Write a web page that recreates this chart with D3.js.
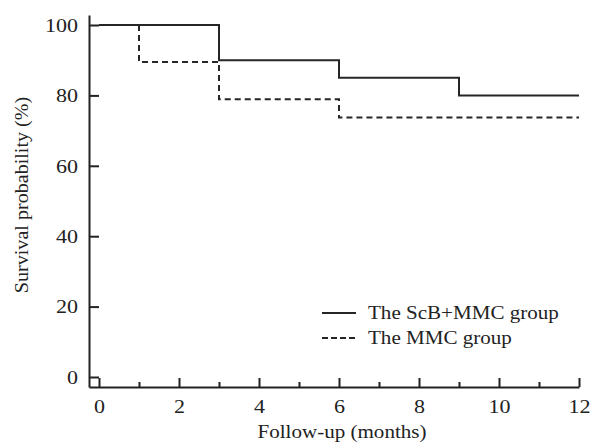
<!DOCTYPE html>
<html>
<head>
<meta charset="utf-8">
<script src="https://cdn.jsdelivr.net/npm/d3@7"></script>
<style>
  body { margin: 0; background: #fff; }
</style>
</head>
<body>
<div id="chart"></div>
<script>
// step points: [month, survival %]
var scbMonths = [0, 3, 6, 9, 12];
var scbSurvival = [100, 90, 85, 80, 80];
var mmcMonths = [0, 1, 3, 6, 12];
var mmcSurvival = [100, 89.5, 78.9, 73.7, 73.7];

var xTicks = [0, 2, 4, 6, 8, 10, 12];
var xMinorTicks = [1, 3, 5, 7, 9, 11];
var yTicks = [0, 20, 40, 60, 80, 100];

var legendLabels = ["The ScB+MMC group", "The MMC group"];

const width = 591;
const height = 447;
const serif = "Liberation Serif";
const fontSize = 19.5;

// widen the serif glyphs a little (reference font is wider than Times)
function widen(sel, k) {
    sel.each(function() {
        var L = this.getComputedTextLength();
        this.setAttribute('textLength', L * k);
        this.setAttribute('lengthAdjust', 'spacingAndGlyphs');
    });
}

const xScale = d3.scaleLinear().domain([-0.25, 12]).range([89, 579]);
const yScale = d3.scaleLinear().domain([-2.84, 102.84]).range([387, 15]);

let svg = d3.select('#chart')
    .append('svg')
        .attr('width', width)
        .attr('height', height)
        .attr('font-family', serif);

// x-axis
let xAxis = svg.append('g')
    .attr('transform', `translate(0, ${yScale.range()[0]})`)
    .call(d3.axisBottom(xScale).tickValues(xTicks).tickSizeInner(-9).tickSizeOuter(0).tickPadding(12));

svg.append('g')
    .attr('transform', `translate(0, ${yScale.range()[0]})`)
    .call(d3.axisBottom(xScale).tickValues(xMinorTicks).tickSizeInner(-5).tickSizeOuter(0).tickFormat(''))
    .call(g => g.select('.domain').remove());

// y-axis
let yAxis = svg.append('g')
    .attr('transform', `translate(${xScale.range()[0]}, 0)`)
    .call(d3.axisLeft(yScale).tickValues(yTicks).tickSizeInner(-10).tickSizeOuter(0).tickPadding(11));

svg.selectAll('g').attr('font-family', serif).attr('font-size', fontSize);
svg.selectAll('.domain').attr('stroke', '#222').attr('stroke-width', 2);
svg.selectAll('.tick line').attr('stroke', '#222').attr('stroke-width', 2);
svg.selectAll('.tick text').attr('fill', '#222');
widen(svg.selectAll('.tick text'), 1.13);

// axis titles
let xTitle = svg.append('text')
    .attr('x', 342)
    .attr('y', 438)
    .attr('text-anchor', 'middle')
    .attr('font-size', fontSize)
    .attr('fill', '#222')
    .text('Follow-up (months)');
widen(xTitle, 1.08);

let yTitle = svg.append('text')
    .attr('transform', 'translate(28, 195) rotate(-90)')
    .attr('text-anchor', 'middle')
    .attr('font-size', fontSize)
    .attr('fill', '#222')
    .text('Survival probability (%)');
widen(yTitle, 1.03);

// survival curves
const line = d3.line()
    .x((d) => xScale(d[0]))
    .y((d) => yScale(d[1]))
    .curve(d3.curveStepAfter);

svg.append('path')
    .datum(d3.zip(scbMonths, scbSurvival))
    .attr('fill', 'none')
    .attr('stroke', '#262626')
    .attr('stroke-width', 2)
    .attr('d', line);

svg.append('path')
    .datum(d3.zip(mmcMonths, mmcSurvival))
    .attr('fill', 'none')
    .attr('stroke', '#262626')
    .attr('stroke-width', 2)
    .attr('stroke-dasharray', '6,4')
    .attr('d', line);

// legend
let legend = svg.append('g').attr('transform', 'translate(322, 313)');
legendLabels.forEach(function(label, i) {
    legend.append('line')
        .attr('x1', 0).attr('x2', 34)
        .attr('y1', i * 25).attr('y2', i * 25)
        .attr('stroke', '#262626')
        .attr('stroke-width', 2)
        .attr('stroke-dasharray', i == 1 ? '6,3' : null);
    let t = legend.append('text')
        .attr('x', 46)
        .attr('y', i * 25 + 6)
        .attr('font-size', fontSize)
        .attr('fill', '#222')
        .text(label);
    widen(t, 1.08);
});
</script>
</body>
</html>
